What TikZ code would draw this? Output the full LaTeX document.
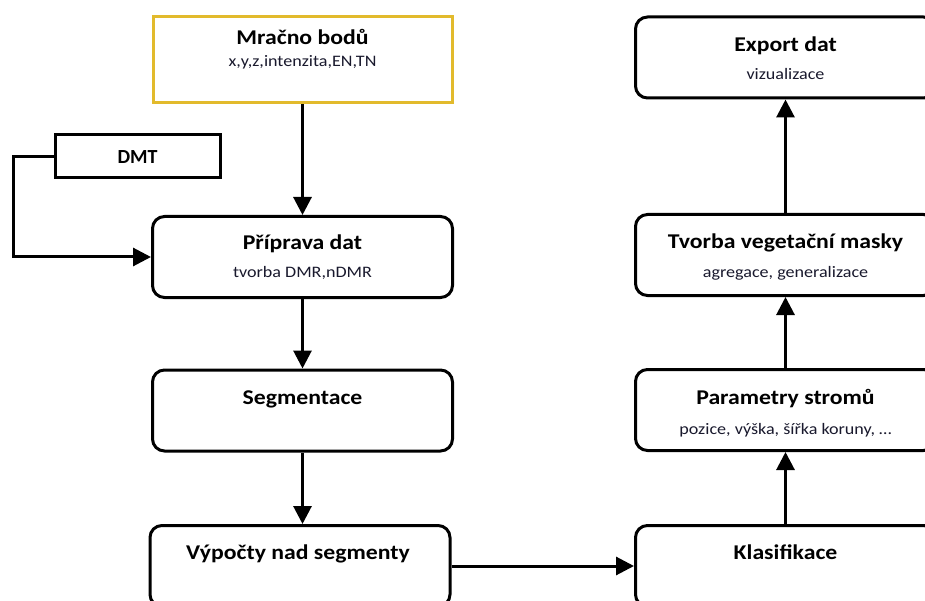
\documentclass[tikz,border=0pt]{standalone}
\usepackage{fontspec}
\setmainfont{Carlito}
\newfontfamily\wideface[FakeStretch=1.13]{Carlito}
\usetikzlibrary{arrows.meta}
\definecolor{gold}{RGB}{226,186,44}
\definecolor{subtxt}{RGB}{25,25,45}
\tikzset{
  box/.style={draw=black, line width=3pt, rounded corners=12pt, fill=white,
    minimum width=300pt, minimum height=81pt, inner sep=0pt},
  plainbox/.style={draw=black, line width=3pt, fill=white, inner sep=0pt},
  ttl/.style={font=\wideface\bfseries\fontsize{21}{23}\selectfont, anchor=base, inner sep=0pt, text=black},
  sub/.style={font=\wideface\fontsize{16}{18}\selectfont, anchor=base, inner sep=0pt, text=subtxt},
  arr/.style={line width=3pt, -{Triangle[length=18pt,width=18pt]}},
}
\begin{document}
\begin{tikzpicture}[x=1pt,y=-1pt]
\useasboundingbox[fill=white] (0,0) rectangle (925,601);
% boxes
\node[plainbox, draw=gold, minimum width=299pt, minimum height=86pt] (mracno) at (302.5,60) {};
\node[plainbox, minimum width=165pt, minimum height=43pt] (dmt) at (137.5,156.5) {};
\node[box] (priprava) at (302.5,257) {};
\node[box] (segm) at (302.5,410.5) {};
\node[box] (vypocty) at (300,566) {};
\node[box] (klasif) at (785.5,566) {};
\node[box] (param) at (785.5,410) {};
\node[box] (tvorba) at (785.5,255) {};
\node[box] (export) at (785.5,57.5) {};
% texts
\node[ttl] (t1) at (302.5,45) {Mračno bodů};
\node[sub] (s1) at (302.5,67) {x,y,z,intenzita,EN,TN};
\node[font=\bfseries\fontsize{20}{22}\selectfont, inner sep=0pt] (t2) at (137.5,157) {DMT};
\node[ttl] (t3) at (302.5,250) {Příprava dat};
\node[sub] (s3) at (302.5,277) {tvorba DMR,nDMR};
\node[ttl] (t4) at (302.5,404) {Segmentace};
\node[ttl] (t5) at (298,559) {Výpočty nad segmenty};
\node[ttl] (t6) at (785.5,559) {Klasifikace};
\node[ttl] (t7) at (785.5,404) {Parametry stromů};
\node[sub] (s7) at (785.5,434) {pozice, výška, šířka koruny, …};
\node[ttl] (t8) at (785.5,249) {Tvorba vegetační masky};
\node[sub] (s8) at (785.5,277) {agregace, generalizace};
\node[ttl] (t9) at (785.5,52) {Export dat};
\node[sub] (s9) at (785.5,80) {vizualizace};
% connectors
\coordinate (bend) at (13,156.5);
\draw[arr] (mracno.south) -- (priprava.north);
\draw[arr] (priprava.south) -- (segm.north);
\draw[arr] (segm.south) -- (segm.south |- vypocty.north);
\draw[arr] (vypocty.east) -- (klasif.west);
\draw[arr] (klasif.north) -- (param.south);
\draw[arr] (param.north) -- (tvorba.south);
\draw[arr] (tvorba.north) -- (export.south);
\draw[arr] (dmt.west) -- (bend) |- (priprava.west);
\end{tikzpicture}
\end{document}
